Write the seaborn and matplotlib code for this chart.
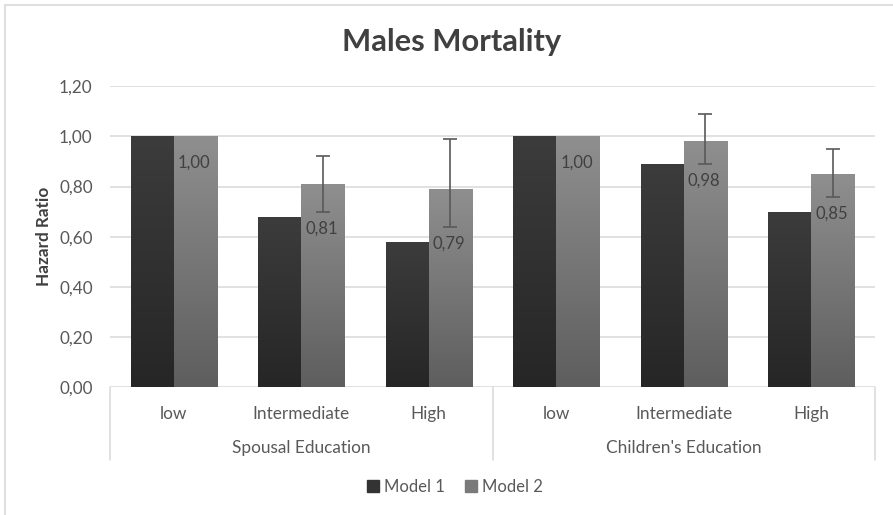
import numpy as np
import pandas as pd
import seaborn as sns
import matplotlib
matplotlib.use("Agg")
import matplotlib.pyplot as plt
from matplotlib.patches import Rectangle
from matplotlib.ticker import FuncFormatter
import matplotlib.transforms as mtransforms

# data
groups = ["Spousal Education", "Children's Education"]
levels = ["low", "Intermediate", "High"]
model1 = [1.00, 0.68, 0.58, 1.00, 0.89, 0.70]
model2 = [1.00, 0.81, 0.79, 1.00, 0.98, 0.85]
model2_low = [1.00, 0.70, 0.64, 1.00, 0.89, 0.76]
model2_high = [1.00, 0.92, 0.99, 1.00, 1.09, 0.95]
yticks = [0.0, 0.2, 0.4, 0.6, 0.8, 1.0, 1.2]

keys = [g + "|" + l for g in groups for l in levels]
df = pd.DataFrame({
    "key": keys * 2,
    "value": model1 + model2,
    "model": ["Model 1"] * 6 + ["Model 2"] * 6,
})

sns.set_theme(style="white")
plt.rcParams["font.family"] = ["Lato", "DejaVu Sans"]

fig = plt.figure(figsize=(8.93, 5.15), dpi=100)
ax = fig.add_axes([110 / 893, 128 / 515, 765 / 893, 300.7 / 515])

top_cols = {"Model 1": "#3c3c3c", "Model 2": "#8f8f8f"}
bot_cols = {"Model 1": "#262626", "Model 2": "#5e5e5e"}
mid_cols = {"Model 1": "#333333", "Model 2": "#7a7a7a"}

sns.barplot(data=df, x="key", y="value", hue="model", order=keys,
            palette=mid_cols, width=0.675, ax=ax, errorbar=None,
            saturation=1, legend=True)

ax.set_xlim(-0.5, 5.5)
ax.set_ylim(0, 1.2)
ax.set_yticks(yticks)
ax.yaxis.set_major_formatter(FuncFormatter(lambda v, p: f"{v:.2f}".replace(".", ",")))
ax.grid(axis="y", color="#d9d9d9", linewidth=1.1)
ax.set_axisbelow(True)
for s in ax.spines.values():
    s.set_visible(False)
ax.tick_params(axis="y", length=0, pad=12.5, labelsize=12.3, labelcolor="#595959")
ax.tick_params(axis="x", length=0, pad=14, labelsize=12.4, labelcolor="#595959")
ax.set_xticks(range(6))
ax.set_xticklabels(levels * 2)
ax.set_xlabel("")
ax.set_ylabel("Hazard Ratio", fontsize=12.3, fontweight="bold", color="#404040")
ax.yaxis.set_label_coords(-(110 - 52) / 765, 0.5)

# vertical gradient on each bar
grad = np.linspace(1, 0, 256).reshape(-1, 1)
for cont, name in zip(ax.containers, ["Model 1", "Model 2"]):
    cmap = matplotlib.colors.LinearSegmentedColormap.from_list(
        name, [bot_cols[name], top_cols[name]])
    for p in cont:
        x0, y0, w, h = p.get_x(), p.get_y(), p.get_width(), p.get_height()
        im = ax.imshow(grad, extent=[x0, x0 + w, y0, y0 + h], aspect="auto",
                       cmap=cmap, vmin=0, vmax=1, zorder=p.get_zorder() + 0.1)
        im.set_clip_path(p)
        p.set_edgecolor("none")

# error bars and labels on model 2
bars2 = ax.containers[1]
for i, p in enumerate(bars2):
    cx = p.get_x() + p.get_width() / 2
    v = model2[i]
    lo, hi = model2_low[i], model2_high[i]
    if hi > lo:
        ax.errorbar(cx, v, yerr=[[v - lo], [hi - v]], fmt="none", ecolor="#595959",
                    elinewidth=1.2, capsize=5, capthick=1.2, zorder=5)
        ly = lo - 0.068
    else:
        ly = v - 0.104
    ax.text(cx - 0.01, ly, f"{v:.2f}".replace(".", ","), ha="center", va="center",
            fontsize=12, color="#404040", zorder=6)

ax.set_xlim(-0.5, 5.5)
ax.set_ylim(0, 1.2)

# category axis frame
trans = mtransforms.blended_transform_factory(ax.transData, ax.transAxes)
for xb in [-0.5, 2.5, 5.5]:
    ax.plot([xb, xb], [0, -0.243], transform=trans, color="#d9d9d9",
            linewidth=1.1, clip_on=False)
for gi, g in enumerate(groups):
    ax.text(gi * 3 + 1, -0.203, g, transform=trans, ha="center", va="center",
            fontsize=12.4, color="#595959")

# legend
ax.legend_.remove()
handles = [Rectangle((0, 0), 1, 1, color=mid_cols[m]) for m in ["Model 1", "Model 2"]]
fig.legend(handles, ["Model 1", "Model 2"], loc="center", bbox_to_anchor=(455 / 893, 1 - 487 / 515),
           ncol=2, frameon=False, fontsize=12, handlelength=0.7, handleheight=0.7,
           handletextpad=0.3, columnspacing=1.2, labelcolor="#595959")

fig.text(452 / 893, 1 - 42 / 515, "Males Mortality", ha="center", va="center",
         fontsize=22.2, fontweight="bold", color="#404040")

# outer chart border
fig.patches.append(Rectangle((5 / 893, -0.05), 1.1, 1 - 5 / 515 + 0.05, transform=fig.transFigure,
                             fill=False, edgecolor="#d9d9d9", linewidth=1.2))

fig.savefig("out.png", dpi=100)
